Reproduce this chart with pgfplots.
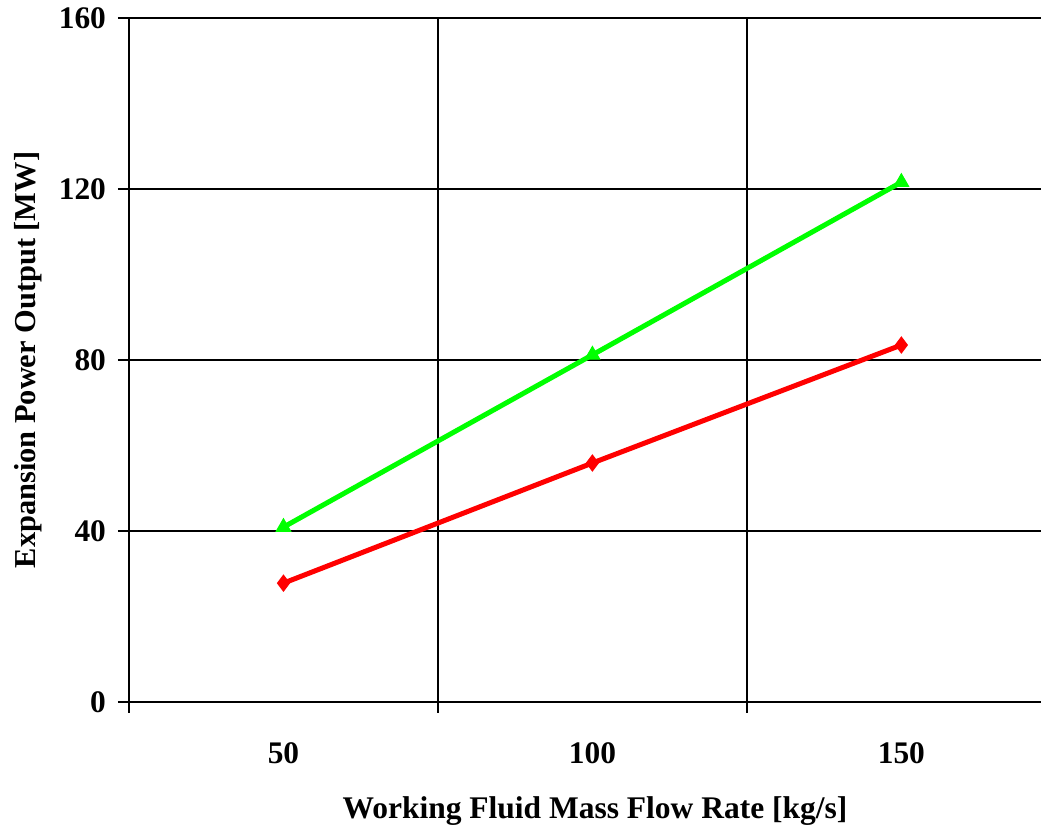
\documentclass[border=0pt]{standalone}
\usepackage{pgfplots}
\pgfplotsset{compat=1.18}
\usepackage{fontspec}
\setmainfont{Liberation Serif}

\definecolor{lred}{RGB}{255,0,0}
\definecolor{lgreen}{RGB}{0,255,0}

\begin{document}
\begin{tikzpicture}
\begin{axis}[
    scale only axis,
    width=456pt, height=342pt,
    xmin=25, xmax=172.6,
    ymin=0, ymax=160,
    axis lines=left,
    axis line style={-, line width=1pt},
    xtick={25,75,125},
    xticklabels={},
    extra x ticks={50,100,150},
    extra x tick style={grid=none, major tick length=0pt},
    extra x tick labels={50,100,150},
    ytick={0,40,80,120,160},
    tick align=outside,
    major tick length=5.5pt,
    tick style={black, line width=1pt},
    grid=major,
    major grid style={black, line width=1pt},
    /pgf/number format/assume math mode=true,
    ticklabel style={font=\fontsize{15.7}{18}\selectfont\bfseries},
    yticklabel style={xshift=-2.5pt},
    xticklabel style={yshift=-17pt},
    xlabel={Working Fluid Mass Flow Rate [kg/s]},
    ylabel={Expansion Power Output [MW]},
    xlabel style={font=\fontsize{15.75}{19}\selectfont\bfseries, at={(axis description cs:0.5,0)}, anchor=north, yshift=-44pt, xshift=5pt},
    ylabel style={font=\fontsize{15.2}{18}\selectfont\bfseries, at={(axis description cs:0,0.5)}, anchor=south, yshift=40pt},
]
\addplot[lred, line width=2.5pt, mark=diamond*, mark size=4pt, mark options={solid, fill=lred, line width=0.5pt}]
  coordinates {(50,27.8) (100,55.9) (150,83.5)};
\addplot[lgreen, line width=2.5pt, mark=triangle*, mark size=4.2pt, mark options={solid, fill=lgreen, line width=0.5pt}]
  coordinates {(50,40.9) (100,81.2) (150,121.6)};
\end{axis}
\pgfresetboundingbox
\path[use as bounding box] (-64.5pt,-63.5pt) rectangle (456pt,351pt);
\end{tikzpicture}
\end{document}
